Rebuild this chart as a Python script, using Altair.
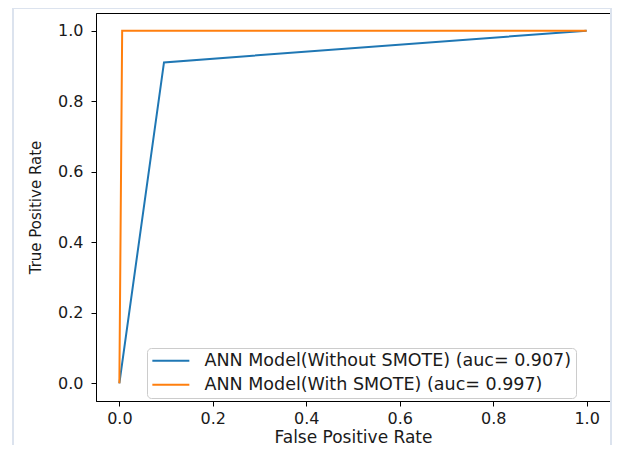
import altair as alt
import pandas as pd

# ROC points
fpr_without = [0.0, 0.0955, 1.0]
tpr_without = [0.0, 0.910, 1.0]
fpr_with = [0.0, 0.006, 1.0]
tpr_with = [0.0, 1.0, 1.0]
labels = ["ANN Model(Without SMOTE) (auc= 0.907)", "ANN Model(With SMOTE) (auc= 0.997)"]
colors = ["#1f77b4", "#ff7f0e"]
ticks = [0.0, 0.2, 0.4, 0.6, 0.8, 1.0]

rows = []
for i, (f, t) in enumerate(zip(fpr_without, tpr_without)):
    rows.append({"model": labels[0], "fpr": f, "tpr": t, "idx": i})
for i, (f, t) in enumerate(zip(fpr_with, tpr_with)):
    rows.append({"model": labels[1], "fpr": f, "tpr": t, "idx": i})
df = pd.DataFrame(rows)

FONT = "DejaVu Sans"
TXT = "#1a1a1a"

lines = alt.Chart(df).mark_line(strokeWidth=2).encode(
    x=alt.X("fpr:Q",
            scale=alt.Scale(domain=[-0.05, 1.05], nice=False, zero=False),
            axis=alt.Axis(values=ticks, format=".1f", title="False Positive Rate",
                          grid=False, labelFontSize=16, titleFontSize=17,
                          labelPadding=4, titlePadding=3)),
    y=alt.Y("tpr:Q",
            scale=alt.Scale(domain=[-0.05, 1.05], nice=False, zero=False),
            axis=alt.Axis(values=ticks, format=".1f", title="True Positive Rate",
                          grid=False, labelFontSize=16, titleFontSize=15,
                          labelPadding=8, titlePadding=14)),
    color=alt.Color("model:N",
                    scale=alt.Scale(domain=labels, range=colors),
                    sort=labels,
                    legend=alt.Legend(title=None, orient="none", legendX=51, legendY=335)),
    order=alt.Order("idx:Q"),
)

frame = alt.Chart(pd.DataFrame({"k": [0]})).mark_rect(
    fill="transparent", stroke="#dce3ee", strokeWidth=2
).encode(
    x=alt.value(-83), x2=alt.value(515), y=alt.value(-5), y2=alt.value(436)
)

chart = alt.layer(frame, lines).properties(
    width=514, height=388,
    autosize=alt.AutoSizeParams(type="none"),
    padding={"left": 88, "top": 5, "right": 2, "bottom": 44},
    background="white",
).configure_view(
    stroke="black", strokeWidth=1
).configure_axis(
    domainColor="black", domainWidth=1, tickColor="black", tickSize=5, tickWidth=1,
    labelFont=FONT, titleFont=FONT, labelColor=TXT, titleColor=TXT,
    titleFontWeight="normal"
).configure_legend(
    labelFont=FONT, labelFontSize=17.5, labelColor=TXT,
    symbolType="M-1,0H4", symbolStrokeWidth=2, symbolSize=219,
    strokeColor="#cccccc", cornerRadius=4, fillColor="white",
    padding=4, labelOffset=36, rowPadding=5, labelLimit=500,
)

chart.save("out.html", embed_options={"renderer": "svg", "actions": False})
